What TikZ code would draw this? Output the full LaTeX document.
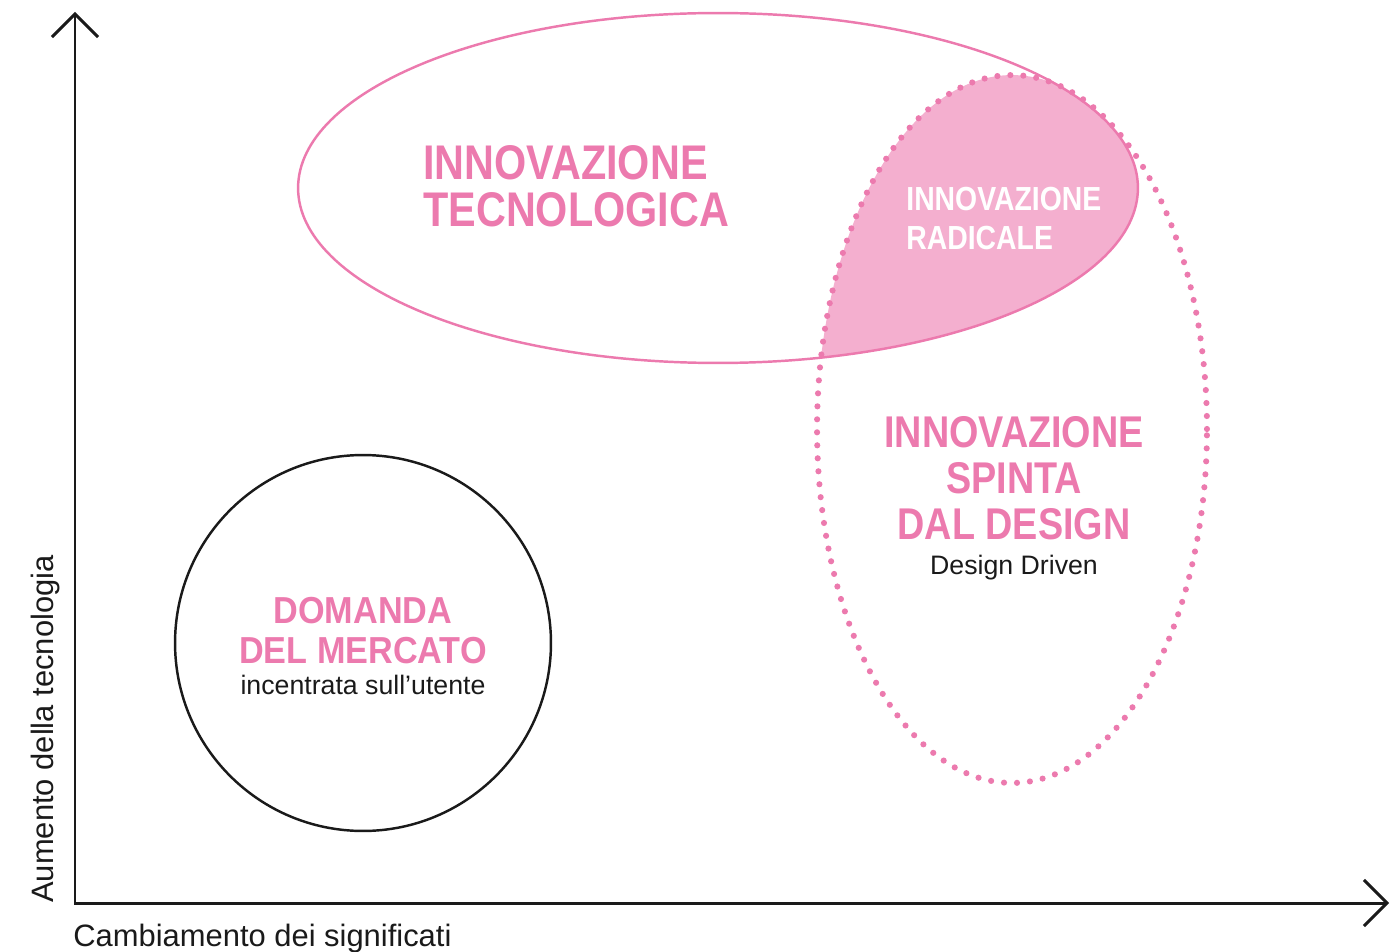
\documentclass[tikz,border=0pt]{standalone}
\usepackage{fontspec}
\setmainfont{Liberation Sans}
\newfontfamily\titlefont[FakeStretch=0.85]{Liberation Sans}
\newfontfamily\domfont[FakeStretch=0.91]{Liberation Sans}
\usetikzlibrary{arrows.meta,positioning}

\definecolor{rosa}{HTML}{EC7AAE}
\definecolor{rosachiaro}{HTML}{F4AFCF}
\definecolor{nero}{HTML}{1A1A1A}

\tikzset{
  barb/.tip={Straight Barb[length=0.46cm,width=0.92cm]},
  asse/.style={nero, line width=1.7pt, barb-barb},
  titolo/.style={rosa, inner sep=0pt, align=center},
  sotto/.style={nero, inner sep=0pt, font=\fontsize{15.2}{18}\selectfont},
  etichetta/.style={nero, inner sep=0pt, font=\fontsize{17.6}{20}\selectfont}
}

\begin{document}
\begin{tikzpicture}[x=0.02cm,y=-0.02cm]
%\draw[step=100,gray,very thin] (0,0) grid (1391,952);
\useasboundingbox (0,0) rectangle (1391,952);

% assi
\coordinate (top) at (75,12);
\coordinate (origin) at (75,903);
\coordinate (right) at (1389,903);
\draw[asse] (top) -- (origin) -- (right);

\node[etichetta, anchor=base west] (xlabel) at (73,946) {Cambiamento dei significati};
\node[etichetta, anchor=base west, rotate=90] (ylabel) at (53,903) {Aumento della tecnologia};

% innovazione radicale
\begin{scope}
\clip (1012,429) ellipse [x radius=3.9cm, y radius=7.08cm];
\fill[rosachiaro] (718,188) ellipse [x radius=8.4cm, y radius=3.5cm];
\end{scope}

\draw[rosa, line width=1.4pt] (718,188) ellipse [x radius=8.4cm, y radius=3.5cm];

\draw[rosa, line width=3.5pt, line cap=round, dash pattern=on 0pt off 0.26cm] (1012,429) ellipse [x radius=3.9cm, y radius=7.08cm];

\draw[nero, line width=1.4pt] (363,643) circle [radius=3.76cm];

\node[titolo, anchor=north west, align=left, font=\titlefont\bfseries\fontsize{27.7}{26.7}\selectfont] (tecnologica) at (423,145) {INNOVAZIONE\\TECNOLOGICA};

\node[titolo, text=white, anchor=north west, align=left, font=\titlefont\bfseries\fontsize{19}{22.1}\selectfont] (radicale) at (906,187) {INNOVAZIONE\\RADICALE};

\node[titolo, anchor=north, font=\titlefont\bfseries\fontsize{25.3}{26.1}\selectfont] (design) at (1014,416) {INNOVAZIONE\\SPINTA\\DAL DESIGN};
\node[sotto, below=0.3cm of design] (driven) {Design Driven};

\node[titolo, anchor=north, font=\domfont\bfseries\fontsize{21.4}{22.7}\selectfont] (domanda) at (363,597) {DOMANDA\\DEL MERCATO};
\node[sotto, below=0.22cm of domanda] (utente) {incentrata sull’utente};

\end{tikzpicture}
\end{document}
